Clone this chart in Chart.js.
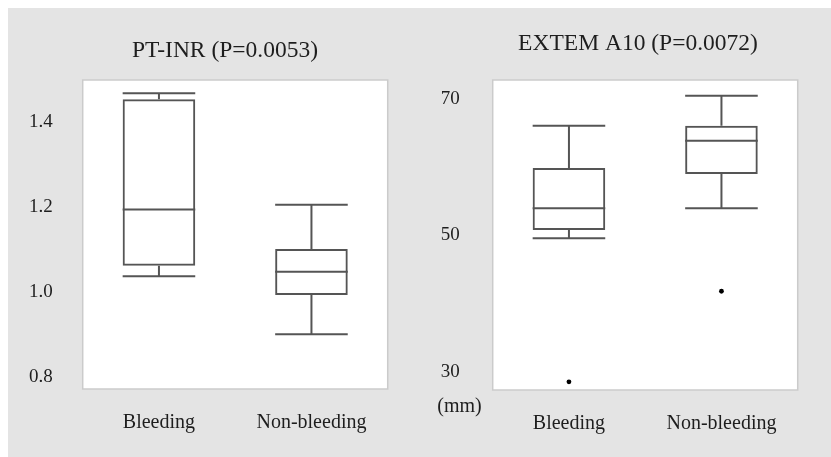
<!DOCTYPE html>
<html>
<head>
<meta charset="utf-8">
<title>PT-INR and EXTEM A10</title>
<script src="https://cdn.jsdelivr.net/npm/chart.js@4"></script>
<style>
  body { margin: 0; background: #fff; }
  #panel { position: absolute; left: 8px; top: 8px; width: 823px; height: 449px; background: #e4e4e4; }
  #ptChart { position: absolute; left: 8px; top: 8px; }
  #exChart { position: absolute; left: 415px; top: 8px; }
</style>
</head>
<body>
<div id="panel"></div>
<canvas id="ptChart" width="407" height="449"></canvas>
<canvas id="exChart" width="416" height="449"></canvas>
<script>
// groups on the x axis
const groups = ['Bleeding', 'Non-bleeding'];

// PT-INR box plot values
const ptLow = [1.037, 0.901];
const ptQ1 = [1.062, 0.993];
const ptMedian = [1.194, 1.048];
const ptQ3 = [1.453, 1.101];
const ptHigh = [1.467, 1.205];
const ptTicks = [0.8, 1.0, 1.2, 1.4];

// EXTEM A10 box plot values (mm)
const exLow = [49.6, 54.0];
const exQ1 = [50.8, 59.0];
const exMedian = [54.0, 63.9];
const exQ3 = [59.9, 66.1];
const exHigh = [66.1, 70.5];
const exOutliers = [28.5, 41.8];
const exTicks = [30, 50, 70];

const ink = '#555';
const textCol = '#1e1e1e';
const serif = "'Liberation Serif', 'Times New Roman', serif";

// white plot area with light frame, plus medians and whiskers on top of the boxes
const boxWhiskers = {
  id: 'boxWhiskers',
  afterLayout(chart) {
    // let the y tick labels use the room left of the axis box (title is centred with padding)
    chart.scales.y.left = 0;
  },
  beforeDraw(chart) {
    const {ctx, chartArea: a} = chart;
    ctx.save();
    ctx.fillStyle = '#fff';
    ctx.fillRect(a.left, a.top, a.width, a.height);
    ctx.strokeStyle = '#cbcbcb';
    ctx.lineWidth = 1.5;
    ctx.strokeRect(a.left, a.top, a.width, a.height);
    ctx.restore();
  },
  afterDatasetsDraw(chart, args, opts) {
    const {ctx, scales: {x, y}} = chart;
    const bars = chart.getDatasetMeta(0).data;
    ctx.save();
    ctx.strokeStyle = ink;
    ctx.lineWidth = 2;
    opts.median.forEach((m, i) => {
      const cx = x.getPixelForValue(i);
      const half = bars[i].width / 2;
      const hline = (v) => {
        const py = y.getPixelForValue(v);
        ctx.moveTo(cx - half, py);
        ctx.lineTo(cx + half, py);
      };
      ctx.beginPath();
      hline(m);
      hline(opts.low[i]);
      hline(opts.high[i]);
      ctx.moveTo(cx, y.getPixelForValue(opts.q3[i]));
      ctx.lineTo(cx, y.getPixelForValue(opts.high[i]));
      ctx.moveTo(cx, y.getPixelForValue(opts.q1[i]));
      ctx.lineTo(cx, y.getPixelForValue(opts.low[i]));
      ctx.stroke();
    });
    if (opts.unit) {
      ctx.fillStyle = textCol;
      ctx.font = '20px ' + serif;
      ctx.textAlign = 'right';
      ctx.textBaseline = 'middle';
      ctx.fillText(opts.unit, chart.chartArea.left - 11, chart.chartArea.bottom + 17);
    }
    ctx.restore();
  }
};

function makeChart(id, c) {
  const datasets = [{
    type: 'bar',
    data: c.q1.map((q, i) => [q, c.q3[i]]),
    backgroundColor: 'rgba(255,255,255,0)',
    borderColor: ink,
    borderWidth: 2,
    borderSkipped: false,
    barPercentage: 0.476,
    categoryPercentage: 1
  }];
  if (c.outliers) {
    datasets.push({
      type: 'line',
      data: c.outliers,
      showLine: false,
      pointRadius: 2.4,
      pointBorderWidth: 0,
      pointBackgroundColor: '#000'
    });
  }
  return new Chart(document.getElementById(id), {
    type: 'bar',
    data: { labels: groups, datasets: datasets },
    options: {
      responsive: false,
      animation: false,
      devicePixelRatio: 1,
      layout: { padding: c.pad },
      plugins: {
        legend: { display: false },
        tooltip: { enabled: false },
        title: {
          display: true,
          text: c.title,
          color: textCol,
          font: { family: serif, size: 23.5, weight: 'normal' },
          padding: c.titlePad
        },
        boxWhiskers: {
          low: c.low, q1: c.q1, median: c.median, q3: c.q3, high: c.high, unit: c.unit
        }
      },
      scales: {
        x: {
          offset: true,
          grid: { display: false },
          border: { display: false },
          ticks: { color: textCol, font: { family: serif, size: 20 }, padding: 14 },
          afterFit(s) { s.height = c.xHeight; }
        },
        y: {
          min: c.min,
          max: c.max,
          grid: { display: false },
          border: { display: false },
          afterBuildTicks(s) { s.ticks = c.ticks.map(v => ({ value: v })); },
          ticks: {
            color: textCol,
            font: { family: serif, size: 19 },
            padding: c.tickPad,
            callback: c.fmt
          },
          afterFit(s) { s.width = c.yWidth; }
        }
      }
    },
    plugins: [boxWhiskers]
  });
}

makeChart('ptChart', {
  title: 'PT-INR (P=0.0053)',
  low: ptLow, q1: ptQ1, median: ptMedian, q3: ptQ3, high: ptHigh,
  ticks: ptTicks, min: 0.7725, max: 1.498,
  fmt: v => v.toFixed(1),
  pad: { left: 54.3, right: 27.3, top: 0, bottom: 0 },
  titlePad: { top: 28.6, bottom: 15.2 },
  yWidth: 20.4, tickPad: 22, xHeight: 68
});

makeChart('exChart', {
  title: 'EXTEM A10 (P=0.0072)',
  low: exLow, q1: exQ1, median: exMedian, q3: exQ3, high: exHigh,
  outliers: exOutliers,
  ticks: exTicks, min: 27.3, max: 72.82,
  fmt: v => String(v),
  unit: '(mm)',
  pad: { left: 63.3, right: 33.3, top: 0, bottom: 0 },
  titlePad: { top: 21.3, bottom: 22.5 },
  yWidth: 14.4, tickPad: 25, xHeight: 67
});
</script>
</body>
</html>
